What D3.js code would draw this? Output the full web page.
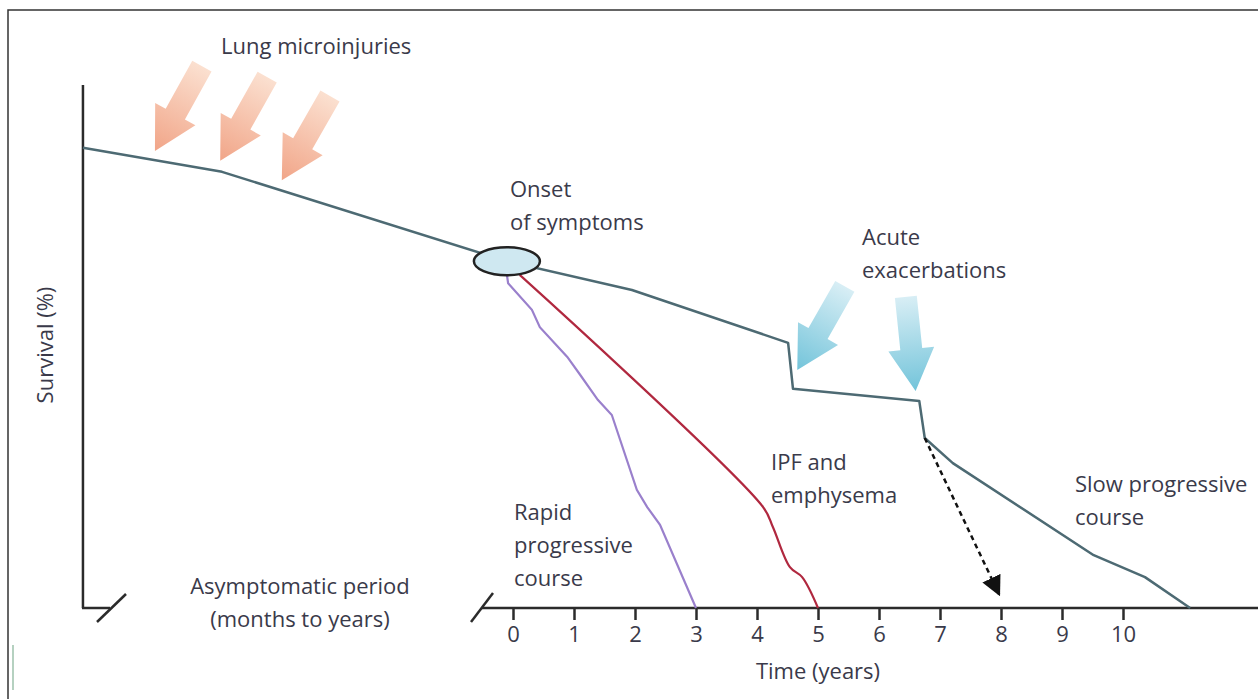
<!DOCTYPE html>
<html>
<head>
<meta charset="utf-8">
<script src="https://cdn.jsdelivr.net/npm/d3@7"></script>
<style>
  body { margin: 0; background: #fff; }
  text { font-family: "Open Sans", "Lato", sans-serif; fill: #3a3a4a; }
</style>
</head>
<body>
<div id="chart"></div>
<script>
var width = 1258, height = 699;

// survival curves: [time in years, survival %]
var slowCourse = [[-7.05, 88], [-4.77, 83.4], [-0.1, 66.3], [1.95, 60.8], [4.51, 50.7],
                  [4.59, 41.9], [6.66, 39.6], [6.75, 32.5], [7.21, 27.7], [9.52, 10.1],
                  [10.36, 5.9], [11.1, 0]];
var rapidCourse = [[-0.1, 63.7], [-0.08, 62.1], [0.31, 57.0], [0.44, 53.7], [0.89, 48.0],
                   [1.10, 44.6], [1.39, 39.8], [1.62, 36.9], [2.03, 22.6], [2.20, 19.3],
                   [2.41, 15.9], [3.0, 0]];
var ipfCourse = [[0.11, 63.7], [4.10, 19.3], [4.26, 15.5], [4.54, 7.8], [4.74, 5.9], [5.0, 0]];
var yearTicks = [0, 1, 2, 3, 4, 5, 6, 7, 8, 9, 10];
var onset = [-0.1, 66.3];
// annotation arrows: tail and tip as [time, survival]
var injuryArrows = [[[-5.10, 103.6], [-5.87, 87.4]],
                    [[-4.03, 101.5], [-4.80, 85.5]],
                    [[-3.00, 97.9], [-3.79, 81.8]]];
var exacerbationArrows = [[[5.44, 61.5], [4.66, 45.5]],
                          [[6.44, 59.5], [6.60, 41.5]]];
var dashedArrow = [[6.75, 32.5], [7.97, 2.6]];

var x = d3.scaleLinear().domain([0, 10]).range([513, 1123]);
var y = d3.scaleLinear().domain([0, 100]).range([608, 85]);

var svg = d3.select("#chart").append("svg")
    .attr("width", width)
    .attr("height", height);

var defs = svg.append("defs");

// frame
svg.append("rect")
    .attr("x", 8).attr("y", 10)
    .attr("width", 1300).attr("height", 760)
    .style("fill", "none")
    .style("stroke", "#333")
    .style("stroke-width", 1.5);
svg.append("line")
    .attr("x1", 13).attr("x2", 13).attr("y1", 645).attr("y2", 690)
    .style("stroke", "#9cc2ab").style("stroke-width", 1.5);

function blockArrow(tail, tip, id, c0, c1) {
    var x1 = x(tail[0]), y1 = y(tail[1]), x2 = x(tip[0]), y2 = y(tip[1]);
    var dx = x2 - x1, dy = y2 - y1, len = Math.sqrt(dx * dx + dy * dy);
    var ux = dx / len, uy = dy / len, nx = -uy, ny = ux;
    var sw = 11, hw = 23, hl = 42;
    var bx = x2 - ux * hl, by = y2 - uy * hl;
    var pts = [[x1 + nx * sw, y1 + ny * sw], [bx + nx * sw, by + ny * sw], [bx + nx * hw, by + ny * hw],
               [x2, y2], [bx - nx * hw, by - ny * hw], [bx - nx * sw, by - ny * sw], [x1 - nx * sw, y1 - ny * sw]];
    var grad = defs.append("linearGradient")
        .attr("id", id)
        .attr("gradientUnits", "userSpaceOnUse")
        .attr("x1", x1).attr("y1", y1).attr("x2", x2).attr("y2", y2);
    grad.append("stop").attr("offset", "0%").attr("stop-color", c0);
    grad.append("stop").attr("offset", "100%").attr("stop-color", c1);
    svg.append("polygon")
        .attr("points", pts.map(function(p) { return p.join(","); }).join(" "))
        .style("fill", "url(#" + id + ")");
}

injuryArrows.forEach(function(a, i) {
    blockArrow(a[0], a[1], "inj" + i, "#fbe0d0", "#f1a588");
});
exacerbationArrows.forEach(function(a, i) {
    blockArrow(a[0], a[1], "exa" + i, "#d8eef5", "#73c4da");
});

// axes
var axisColor = "#2b2b2b";
svg.append("line")
    .attr("x1", x(-7.05)).attr("x2", x(-7.05)).attr("y1", y(100)).attr("y2", y(0))
    .style("stroke", axisColor).style("stroke-width", 2.5);
svg.append("line")
    .attr("x1", x(-7.05) - 1).attr("x2", 110).attr("y1", y(0)).attr("y2", y(0))
    .style("stroke", axisColor).style("stroke-width", 2.5);
svg.append("line")
    .attr("x1", 97).attr("y1", 622).attr("x2", 126).attr("y2", 594)
    .style("stroke", axisColor).style("stroke-width", 2.5);
svg.append("line")
    .attr("x1", 471).attr("y1", 622).attr("x2", 493).attr("y2", 593)
    .style("stroke", axisColor).style("stroke-width", 2.5);
svg.append("line")
    .attr("x1", 482).attr("x2", width).attr("y1", y(0)).attr("y2", y(0))
    .style("stroke", axisColor).style("stroke-width", 2.5);

var xAxis = svg.append("g")
    .attr("transform", "translate(0," + y(0) + ")")
    .call(d3.axisBottom(x).tickValues(yearTicks).tickSize(12).tickPadding(6).tickFormat(d3.format("d")));
xAxis.select(".domain").remove();
xAxis.selectAll(".tick line").style("stroke", axisColor).style("stroke-width", 2.5);
xAxis.selectAll(".tick text")
    .style("font-family", "'Open Sans', sans-serif")
    .style("font-size", "22px")
    .style("fill", "#3a3a4a");

// curves
var line = d3.line().x(function(d) { return x(d[0]); }).y(function(d) { return y(d[1]); });

svg.append("path").datum(slowCourse)
    .attr("d", line)
    .style("fill", "none").style("stroke", "#4d6a73").style("stroke-width", 2.5)
    .style("stroke-linejoin", "round");
svg.append("path").datum(rapidCourse)
    .attr("d", line)
    .style("fill", "none").style("stroke", "#9a80cc").style("stroke-width", 2.2);
svg.append("path").datum(ipfCourse)
    .attr("d", line.curve(d3.curveCatmullRom))
    .style("fill", "none").style("stroke", "#b0283f").style("stroke-width", 2.2);
line.curve(d3.curveLinear);

// dashed arrow
defs.append("marker")
    .attr("id", "head")
    .attr("viewBox", "0 0 10 10")
    .attr("refX", 9).attr("refY", 5)
    .attr("markerWidth", 8).attr("markerHeight", 8)
    .attr("markerUnits", "strokeWidth")
    .attr("orient", "auto")
    .append("path").attr("d", "M0,0L10,5L0,10Z").style("fill", "#111");
svg.append("line")
    .attr("x1", x(dashedArrow[0][0])).attr("y1", y(dashedArrow[0][1]))
    .attr("x2", x(dashedArrow[1][0])).attr("y2", y(dashedArrow[1][1]))
    .style("stroke", "#111").style("stroke-width", 2.5)
    .style("stroke-dasharray", "5,4")
    .attr("marker-end", "url(#head)");

// onset ellipse
svg.append("ellipse")
    .attr("cx", x(onset[0])).attr("cy", y(onset[1]))
    .attr("rx", 33).attr("ry", 14)
    .style("fill", "#cfe8f1").style("stroke", "#222").style("stroke-width", 2.5);

// labels
function label(lines, px, py, anchor) {
    var t = svg.append("text")
        .attr("x", px).attr("y", py)
        .attr("text-anchor", anchor || "start")
        .style("font-size", "22px");
    lines.forEach(function(s, i) {
        t.append("tspan").attr("x", px).attr("dy", i === 0 ? 0 : 33).text(s);
    });
}
label(["Lung microinjuries"], 221, 54);
label(["Onset", "of symptoms"], 510, 197);
label(["Acute", "exacerbations"], 862, 245);
label(["IPF and", "emphysema"], 771, 470);
label(["Slow progressive", "course"], 1075, 492);
label(["Rapid", "progressive", "course"], 514, 520);
label(["Asymptomatic period", "(months to years)"], 300, 594, "middle");
label(["Time (years)"], 818, 679, "middle");

svg.append("text")
    .attr("transform", "translate(53,345) rotate(-90)")
    .attr("text-anchor", "middle")
    .style("font-size", "22px")
    .text("Survival (%)");
</script>
</body>
</html>
